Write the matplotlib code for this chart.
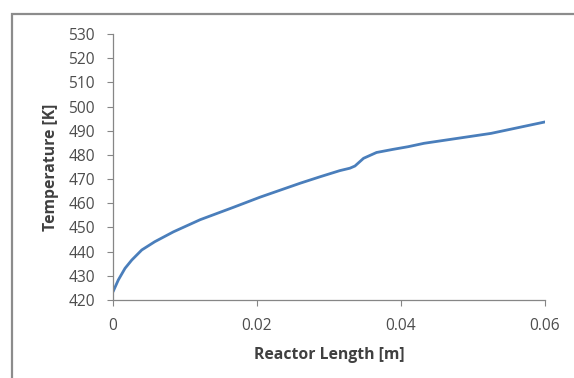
import numpy as np
import matplotlib.pyplot as plt
from matplotlib.patches import Rectangle

# valeurs
length_m = [0.0, 0.00074, 0.00167, 0.0026, 0.0040, 0.0058, 0.0084, 0.0121,
            0.0167, 0.0204, 0.0260, 0.0288, 0.0315, 0.0329, 0.0336, 0.0348,
            0.0366, 0.0389, 0.0410, 0.0432, 0.0525, 0.0601]
temp_K = [423.4, 428.3, 433.1, 436.5, 440.7, 444.1, 448.2, 453.2,
          458.3, 462.5, 468.3, 471.0, 473.5, 474.5, 475.4, 478.6,
          481.0, 482.3, 483.4, 484.8, 488.9, 493.7]

xticks = [0, 0.02, 0.04, 0.06]
xtick_labels = ['0', '0.02', '0.04', '0.06']
yticks = list(range(420, 531, 10))

W, H = 574, 378
gris = '#868686'
texte = '#4d4d4d'

plt.rcParams['font.family'] = ['Open Sans', 'DejaVu Sans']

fig = plt.figure(figsize=(W/100, H/100), dpi=100)
fig.patch.set_facecolor('white')

# cadre du graphique (coupé à droite et en bas)
fig.patches.append(Rectangle((12/W, -0.2), 1.2, (H-14)/H + 0.2,
                             transform=fig.transFigure, fill=False,
                             edgecolor='#8c8c8c', linewidth=1.6))

ax = fig.add_axes([113/W, 1-300/H, (545-113)/W, (300-34)/H])
ax.plot(length_m, temp_K, color='#4a7ebb', linewidth=2.0,
        solid_capstyle='round', solid_joinstyle='round')

ax.set_xlim(0, 0.06)
ax.set_ylim(420, 530)
ax.set_xticks(xticks)
ax.set_xticklabels(xtick_labels)
ax.set_yticks(yticks)

for s in ['top', 'right']:
    ax.spines[s].set_visible(False)
for s in ['left', 'bottom']:
    ax.spines[s].set_color(gris)
    ax.spines[s].set_linewidth(0.9)

ax.tick_params(axis='both', colors=gris, labelcolor=texte, labelsize=11.2,
               length=4, width=0.8, direction='out')
ax.tick_params(axis='x', pad=9)
ax.tick_params(axis='y', pad=9)

ax.set_xlabel('Reactor Length [m]', fontsize=11.3, fontweight='bold',
              color='#404040', labelpad=9)
ax.set_ylabel('Temperature [K]', fontsize=11.3, fontweight='bold',
              color='#404040', labelpad=7)

fig.savefig('out.png', dpi=100)
